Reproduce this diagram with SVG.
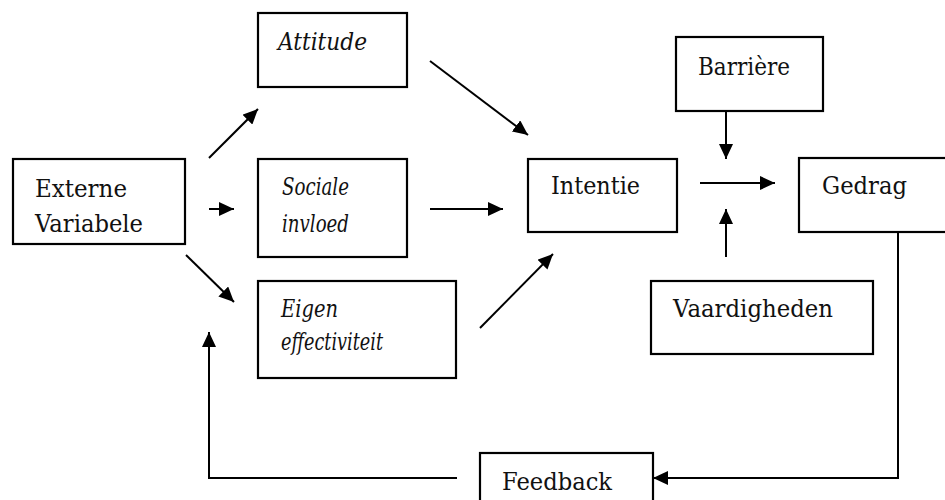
<svg xmlns="http://www.w3.org/2000/svg" width="945" height="500" viewBox="0 0 945 500">
<style>
.box{fill:#fff;stroke:#000;stroke-width:2.2}
.t{font-family:"DejaVu Serif","Liberation Serif",serif;font-size:24px;fill:#111}
.i{font-style:italic}
.c{stroke:#000;stroke-width:2;fill:none;marker-end:url(#ah)}
</style>
<defs>
<marker id="ah" markerUnits="userSpaceOnUse" markerWidth="16" markerHeight="14" refX="15" refY="7" orient="auto">
<path d="M0,0 L15,7 L0,14 z" fill="#000"/>
</marker>
</defs>
<rect width="945" height="500" fill="#fff"/>
<g id="externe"><rect class="box" x="13" y="159" width="172" height="85"/>
<text class="t" x="35" y="197" textLength="92" lengthAdjust="spacingAndGlyphs">Externe</text>
<text class="t" x="35" y="232" textLength="108" lengthAdjust="spacingAndGlyphs">Variabele</text></g>
<g id="attitude"><rect class="box" x="258" y="13" width="149" height="74"/>
<text class="t i" x="278" y="50" textLength="89" lengthAdjust="spacingAndGlyphs">Attitude</text></g>
<g id="sociale"><rect class="box" x="258" y="159" width="149" height="98"/>
<text class="t i" x="282" y="195" textLength="67" lengthAdjust="spacingAndGlyphs">Sociale</text>
<text class="t i" x="282" y="232" textLength="67" lengthAdjust="spacingAndGlyphs">invloed</text></g>
<g id="eigen"><rect class="box" x="258" y="281" width="198" height="97"/>
<text class="t i" x="281" y="317" textLength="57" lengthAdjust="spacingAndGlyphs">Eigen</text>
<text class="t i" x="281" y="350" textLength="102" lengthAdjust="spacingAndGlyphs">effectiviteit</text></g>
<g id="intentie"><rect class="box" x="528" y="159" width="149" height="73"/>
<text class="t" x="551" y="194" textLength="89" lengthAdjust="spacingAndGlyphs">Intentie</text></g>
<g id="barriere"><rect class="box" x="676" y="37" width="147" height="74"/>
<text class="t" x="698" y="75" textLength="92" lengthAdjust="spacingAndGlyphs">Barrière</text></g>
<g id="gedrag"><rect class="box" x="799" y="158" width="160" height="74"/>
<text class="t" x="822" y="194" textLength="85" lengthAdjust="spacingAndGlyphs">Gedrag</text></g>
<g id="vaardigheden"><rect class="box" x="651" y="281" width="222" height="73"/>
<text class="t" x="673" y="317" textLength="160" lengthAdjust="spacingAndGlyphs">Vaardigheden</text></g>
<g id="feedback"><rect class="box" x="480" y="453" width="173" height="60"/>
<text class="t" x="502" y="490" textLength="110" lengthAdjust="spacingAndGlyphs">Feedback</text></g>
<g id="connectors">
<line class="c" x1="209" y1="158" x2="258" y2="109"/>
<line class="c" x1="209" y1="209" x2="234" y2="209"/>
<line class="c" x1="186" y1="255" x2="234" y2="302"/>
<line class="c" x1="430" y1="61" x2="528" y2="135"/>
<line class="c" x1="430" y1="209" x2="503" y2="209"/>
<line class="c" x1="480" y1="328" x2="553" y2="254"/>
<line class="c" x1="700" y1="183" x2="775" y2="183"/>
<line class="c" x1="726" y1="111" x2="726" y2="159"/>
<line class="c" x1="726" y1="257" x2="726" y2="209"/>
<polyline class="c" points="898,232 898,478 653,478"/>
<polyline class="c" points="457,478 209,478 209,332"/>
</g>
</svg>
